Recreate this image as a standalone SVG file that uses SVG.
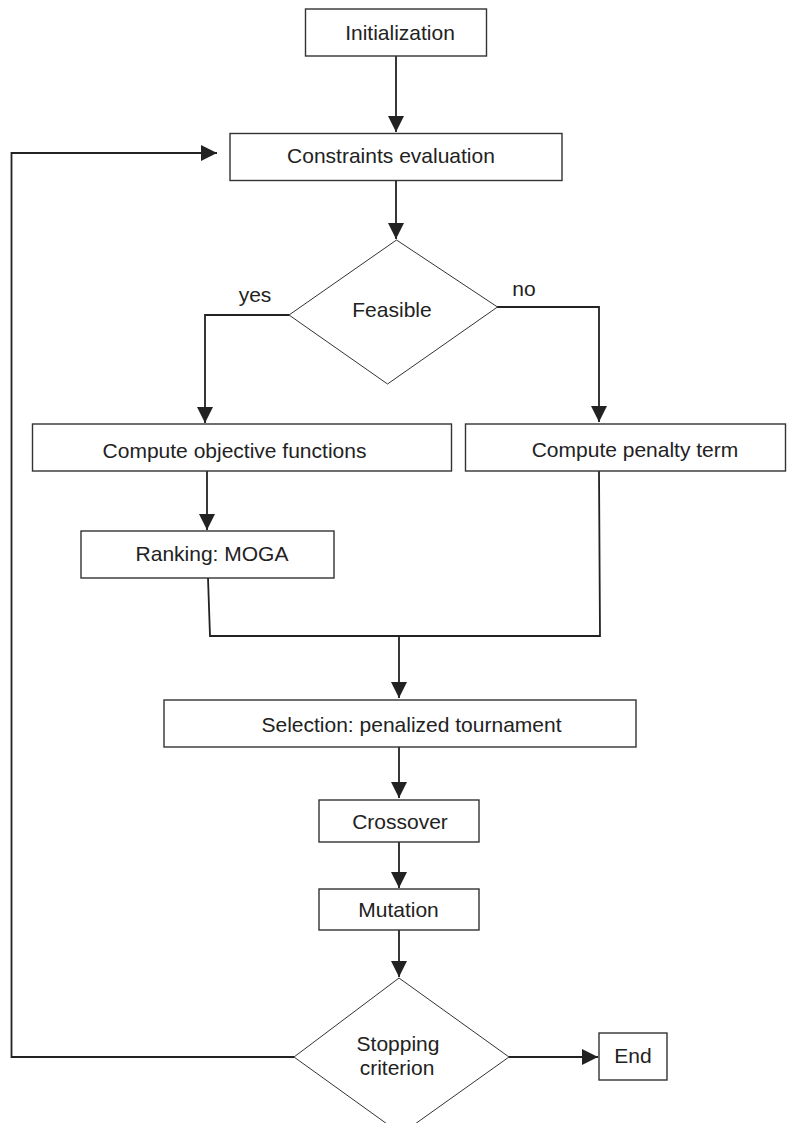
<svg xmlns="http://www.w3.org/2000/svg" width="788" height="1123" viewBox="0 0 788 1123">
<style>
.box{fill:#fff;stroke:#333;stroke-width:1.4}
.dia{fill:#fff;stroke:#333;stroke-width:1}
.lbl{font-family:"Liberation Sans",Arial,sans-serif;font-size:21px;fill:#222;text-anchor:middle}
.con{fill:none;stroke:#222;stroke-width:1.8}
</style>
<defs>
<marker id="arr" markerUnits="userSpaceOnUse" markerWidth="16" markerHeight="16" refX="15" refY="7.5" orient="auto" viewBox="0 0 15 15">
<path d="M0,0 L15,7.5 L0,15 z" fill="#222"/>
</marker>
</defs>
<rect width="788" height="1123" fill="#fff"/>
<g id="connectors">
<line class="con" x1="396" y1="56" x2="396" y2="132" marker-end="url(#arr)"/>
<line class="con" x1="396" y1="180" x2="396" y2="239" marker-end="url(#arr)"/>
<polyline class="con" points="289,315 205,315 205,423" marker-end="url(#arr)"/>
<polyline class="con" points="497,307 599,307 599,422" marker-end="url(#arr)"/>
<line class="con" x1="207" y1="471" x2="207" y2="530" marker-end="url(#arr)"/>
<polyline class="con" points="208,578 210,636 600,636 599,471"/>
<line class="con" x1="399" y1="636" x2="399" y2="698" marker-end="url(#arr)"/>
<line class="con" x1="399" y1="747" x2="399" y2="798" marker-end="url(#arr)"/>
<line class="con" x1="399" y1="842" x2="399" y2="888" marker-end="url(#arr)"/>
<line class="con" x1="399" y1="930" x2="399" y2="977" marker-end="url(#arr)"/>
<line class="con" x1="509" y1="1057" x2="598" y2="1057" marker-end="url(#arr)"/>
<polyline class="con" points="294,1057 11.5,1057 11.5,153 217,153" marker-end="url(#arr)"/>
</g>
<g id="n-init">
<rect class="box" x="305.5" y="9" width="181" height="47"/>
<text class="lbl" x="400" y="40">Initialization</text>
</g>
<g id="n-constraints">
<rect class="box" x="230" y="133.5" width="332" height="47"/>
<text class="lbl" x="391" y="162.5">Constraints evaluation</text>
</g>
<g id="n-feasible">
<polygon class="dia" points="396.5,240 497.5,307 387.5,384 289,315"/>
<text class="lbl" x="392" y="317">Feasible</text>
</g>
<g id="n-yes"><text class="lbl" x="255" y="301.5">yes</text></g>
<g id="n-no"><text class="lbl" x="524" y="296">no</text></g>
<g id="n-objective">
<rect class="box" x="32.5" y="424" width="419" height="47"/>
<text class="lbl" x="234.5" y="457.5">Compute objective functions</text>
</g>
<g id="n-penalty">
<rect class="box" x="465.5" y="424" width="320" height="47"/>
<text class="lbl" x="635" y="456.5">Compute penalty term</text>
</g>
<g id="n-ranking">
<rect class="box" x="81" y="531" width="253" height="47"/>
<text class="lbl" x="212" y="560.5">Ranking: MOGA</text>
</g>
<g id="n-selection">
<rect class="box" x="164" y="700" width="472" height="47"/>
<text class="lbl" x="411.5" y="732">Selection: penalized tournament</text>
</g>
<g id="n-crossover">
<rect class="box" x="319" y="800" width="160" height="42"/>
<text class="lbl" x="400" y="828.5">Crossover</text>
</g>
<g id="n-mutation">
<rect class="box" x="319" y="889" width="160" height="41"/>
<text class="lbl" x="398.5" y="916.5">Mutation</text>
</g>
<g id="n-stopping">
<polygon class="dia" points="399,978 509,1057 401,1134 294,1057"/>
<text class="lbl" x="398" y="1050.5">Stopping</text>
<text class="lbl" x="397" y="1075">criterion</text>
</g>
<g id="n-end">
<rect class="box" x="599" y="1033" width="68" height="47"/>
<text class="lbl" x="633" y="1063">End</text>
</g>
</svg>
